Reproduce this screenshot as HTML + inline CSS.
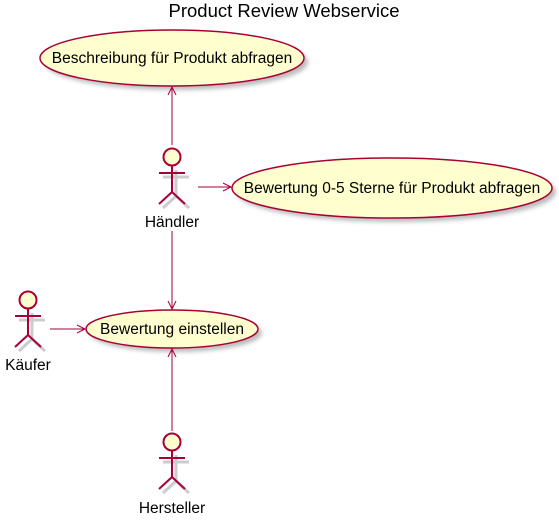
<!DOCTYPE html>
<html><head><style>body{margin:0;background:#fff}svg{display:block}</style></head><body>
<svg width="559" height="525" xmlns="http://www.w3.org/2000/svg" font-family="'Liberation Sans', sans-serif">
<defs><filter id="s" x="-20%" y="-20%" width="150%" height="150%"><feGaussianBlur stdDeviation="2"/></filter>
<g id="a">
<g stroke="#ccc" stroke-width="3" fill="none" transform="translate(4,4)">
<line x1="0" y1="9" x2="0" y2="35"/><line x1="-13" y1="16" x2="13" y2="16"/><path d="M-13 47 L0 35 L13 47"/>
</g>
<circle cx="0" cy="0" r="8.5" fill="#FEFECE" stroke="#A80036" stroke-width="2"/>
<g stroke="#A80036" stroke-width="2" fill="none">
<line x1="0" y1="9" x2="0" y2="35"/><line x1="-13" y1="16" x2="13" y2="16"/><path d="M-13 47 L0 35 L13 47"/>
</g>
</g>
</defs>
<text x="284" y="17" font-size="18.5" text-anchor="middle" fill="#000">Product Review Webservice</text>
<g fill="#FEFECE" stroke="#A80036" stroke-width="1.5">
<ellipse cx="176" cy="62" rx="132" ry="28" fill="#bbb" stroke="none" filter="url(#s)"/>
<ellipse cx="172" cy="58" rx="132" ry="28"/>
<ellipse cx="396" cy="192" rx="160" ry="30" fill="#bbb" stroke="none" filter="url(#s)"/>
<ellipse cx="392" cy="188" rx="160" ry="30"/>
<ellipse cx="176" cy="333" rx="86" ry="19" fill="#bbb" stroke="none" filter="url(#s)"/>
<ellipse cx="172" cy="329" rx="86" ry="19"/>
</g>
<g font-size="15.5" text-anchor="middle" fill="#000">
<text x="172" y="63">Beschreibung für Produkt abfragen</text>
<text x="392" y="193">Bewertung 0-5 Sterne für Produkt abfragen</text>
<text x="172" y="334">Bewertung einstellen</text>
</g>
<use href="#a" x="172" y="157"/>
<use href="#a" x="28" y="300"/>
<use href="#a" x="172" y="442"/>
<g font-size="15.5" text-anchor="middle" fill="#000">
<text x="172" y="227">Händler</text>
<text x="28" y="370">Käufer</text>
<text x="172" y="513">Hersteller</text>
</g>
<g stroke="#A80036" stroke-width="1" fill="none">
<line x1="172" y1="145" x2="172" y2="87"/><path d="M168 95 L172 87 L176 95"/>
<line x1="198" y1="187" x2="231" y2="187"/><path d="M223 183 L231 187 L223 191"/>
<line x1="172" y1="231" x2="172" y2="309"/><path d="M168 301 L172 309 L176 301"/>
<line x1="50" y1="329" x2="85" y2="329"/><path d="M77 325 L85 329 L77 333"/>
<line x1="172" y1="431" x2="172" y2="349"/><path d="M168 357 L172 349 L176 357"/>
</g>
</svg>
</body></html>
